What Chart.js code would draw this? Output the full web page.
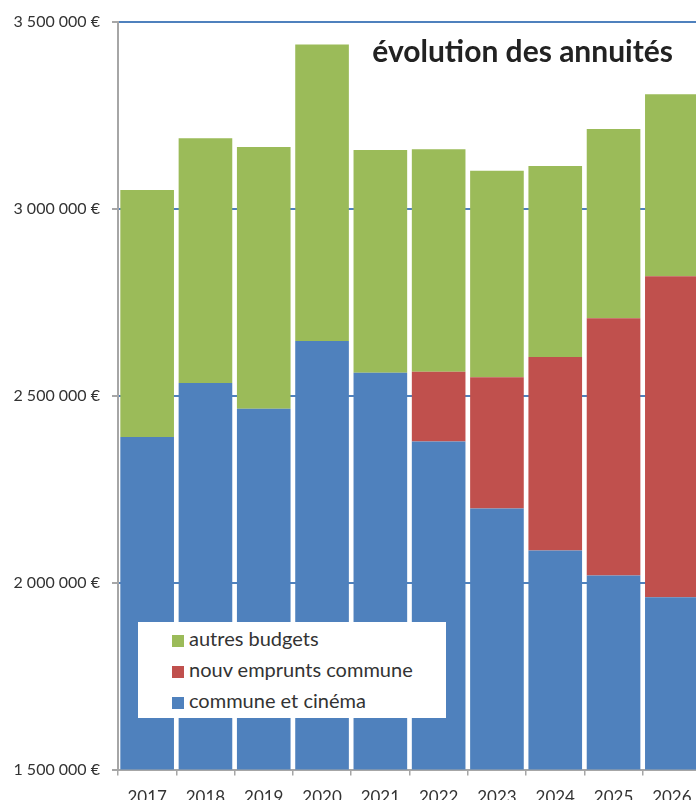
<!DOCTYPE html>
<html lang="fr">
<head>
    <meta charset="UTF-8">
    <title>évolution des annuités</title>
    <script src="https://cdn.jsdelivr.net/npm/chart.js"></script>
    <style>
        body { margin: 0; background: #fff; overflow: hidden; }
        .wrap { position: relative; width: 704px; height: 820px; }
        .titre {
            position: absolute; right: 31px; top: 32px;
            font: bold 30px Lato, sans-serif; color: #222;
        }
        .legende {
            position: absolute; left: 138px; top: 622px; width: 308px; height: 96px;
            background: #fff; font: 20px Lato, sans-serif; color: #333;
            box-sizing: border-box; padding: 1px 0 0 34px;
        }
        .legende div { height: 31px; line-height: 31px; }
        .legende span {
            display: inline-block; width: 12px; height: 12px; margin-right: 5px;
            vertical-align: -1px;
        }
    </style>
</head>
<body>
<div class="wrap">
    <canvas id="annuites" width="704" height="820"></canvas>
    <div class="titre">évolution des annuités</div>
    <div class="legende" id="legende"></div>
</div>

<script>
    // Années et montants (en euros)
    const annees = ['2017', '2018', '2019', '2020', '2021', '2022', '2023', '2024', '2025', '2026'];
    const communeCinema = [2389000, 2534000, 2465000, 2646000, 2561000, 2377000, 2198000, 2086000, 2019000, 1961000];
    const nouvEmprunts = [0, 0, 0, 0, 0, 187000, 351000, 517000, 688000, 858000];
    const autresBudgets = [661000, 654000, 700000, 793000, 596000, 595000, 552000, 511000, 506000, 487000];

    const series = [
        { label: 'commune et cinéma', data: communeCinema, color: '#4f81bd' },
        { label: 'nouv emprunts commune', data: nouvEmprunts, color: '#c0504d' },
        { label: 'autres budgets', data: autresBudgets, color: '#9bbb59' }
    ];

    const euros = v => String(v).replace(/\B(?=(\d{3})+(?!\d))/g, ' ') + ' €';

    new Chart(document.getElementById('annuites'), {
        type: 'bar',
        data: {
            labels: annees,
            datasets: series.map(s => ({
                label: s.label,
                data: s.data,
                backgroundColor: s.color,
                borderWidth: 0,
                barPercentage: 0.92,
                categoryPercentage: 1
            }))
        },
        options: {
            responsive: false,
            animation: false,
            layout: { padding: { top: 20, right: 3, left: 0, bottom: 0 } },
            plugins: { legend: { display: false }, tooltip: { enabled: false } },
            scales: {
                x: {
                    stacked: true,
                    grid: { offset: true, drawOnChartArea: false, tickLength: 6, tickColor: '#a6a6a6', lineWidth: 1.5 },
                    border: { color: '#a6a6a6', width: 2 },
                    ticks: { color: '#333', font: { family: 'Lato', size: 17 }, padding: 12, maxRotation: 0 }
                },
                y: {
                    stacked: true,
                    min: 1500000,
                    max: 3500000,
                    afterFit: scale => { scale.width = 118; },
                    grid: { color: '#4f81bd', lineWidth: 2, tickLength: 6, tickColor: '#a6a6a6' },
                    border: { color: '#a6a6a6', width: 2 },
                    ticks: {
                        stepSize: 500000,
                        color: '#333',
                        padding: 12,
                        font: { family: 'Lato', size: 16 },
                        callback: v => euros(v)
                    }
                }
            }
        }
    });

    // Légende dans l'ordre inverse de l'empilement
    const legende = document.getElementById('legende');
    series.slice().reverse().forEach(s => {
        const ligne = document.createElement('div');
        ligne.innerHTML = '<span style="background:' + s.color + '"></span>' + s.label;
        legende.appendChild(ligne);
    });
</script>
</body>
</html>
